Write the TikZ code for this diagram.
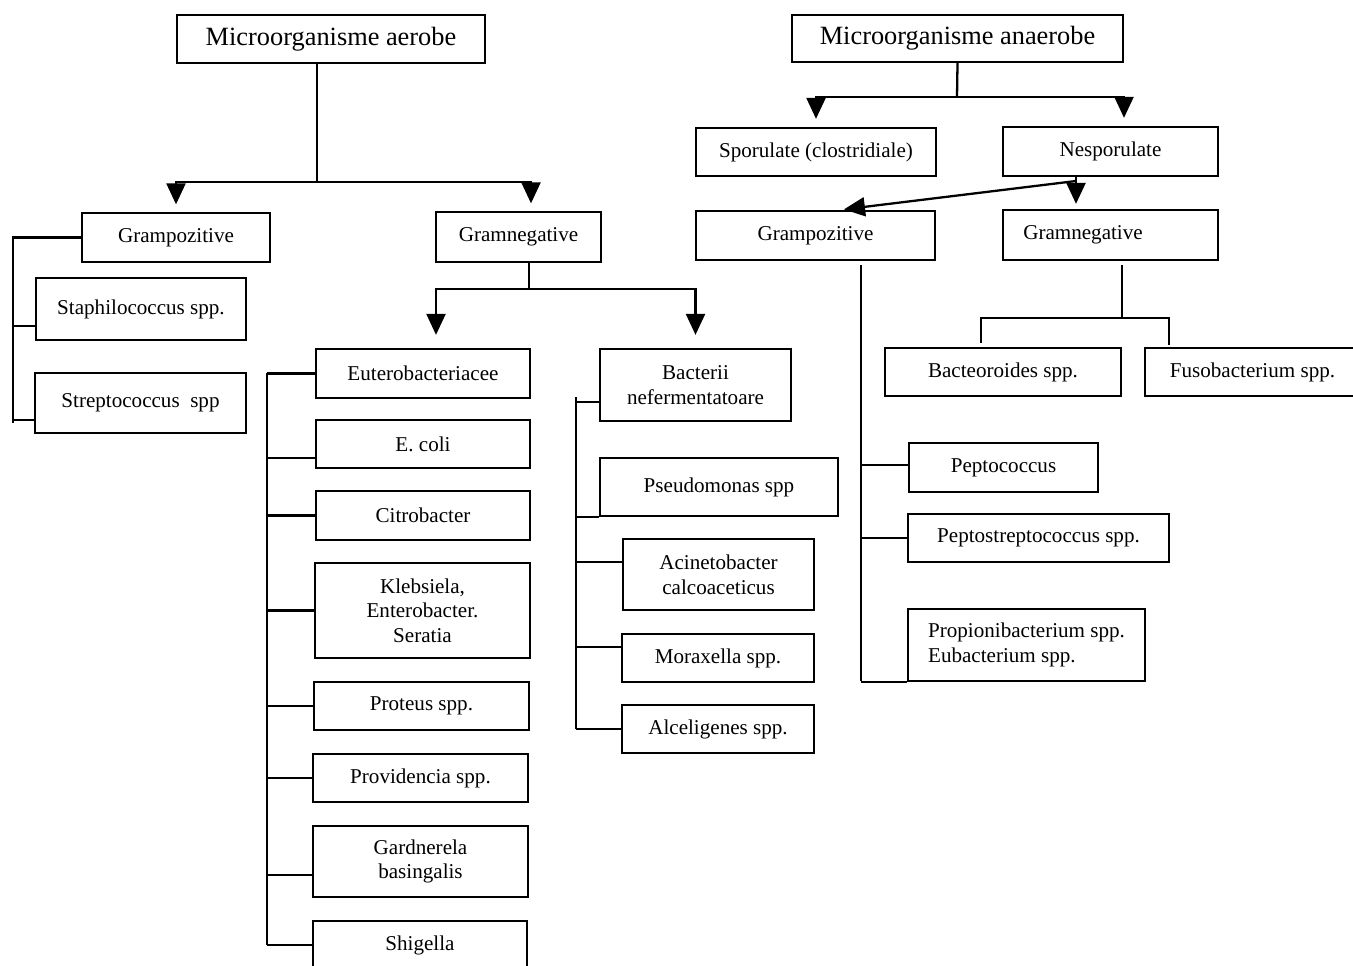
\documentclass[tikz,border=0pt]{standalone}
\usepackage{fontspec}
\setmainfont{Liberation Serif}
\usetikzlibrary{arrows.meta}

\begin{document}
\begin{tikzpicture}[
    x=0.2mm, y=-0.2mm,
    box/.style={draw=black, line width=1.3pt, fill=white, align=center, inner sep=2pt, font=\fontsize{12}{14}\selectfont},
    big/.style={font=\fontsize{15}{18}\selectfont},
    sz/.style 2 args={minimum width=#1*0.2mm, minimum height=#2*0.2mm},
    link/.style={line width=1.3pt},
    arr/.style={line width=1.3pt, -{Triangle[width=3.8mm,length=4.2mm]}}
]
    \path[use as bounding box, clip] (0,0) rectangle (1353,965);
    \fill[white] (0,0) rectangle (1353,965);

    \node[box, big, sz={308}{48}] at (331,39) (aer) {Microorganisme aerobe};
    \node[box, big, sz={331}{47}] at (957.5,38.5) (anaer) {Microorganisme anaerobe};

    \node[box, sz={188}{49}] at (176,237.5) (gpA) {Grampozitive};
    \node[box, sz={165}{50}] at (518.5,237) (gnA) {Gramnegative};
    \node[box, sz={210}{62}] at (141,309) (staph) {Staphilococcus spp.};
    \node[box, sz={211}{60}] at (140.5,403) (strep) {Streptococcus\ \ spp};

    \node[box, sz={214}{49}] at (423,373.5) (eutero) {Euterobacteriacee};
    \node[box, sz={214}{48}] at (423,444) (ecoli) {E. coli};
    \node[box, sz={214}{49}] at (423,515.5) (citro) {Citrobacter};
    \node[box, sz={215}{95}] at (422.5,610.5) (kleb) {Klebsiela,\\Enterobacter.\\Seratia};
    \node[box, sz={215}{48}] at (421.5,706) (proteus) {Proteus spp.};
    \node[box, sz={215}{48}] at (420.5,778) (provid) {Providencia spp.};
    \node[box, sz={215}{71}] at (420.5,861.5) (gardn) {Gardnerela\\basingalis};
    \node[box, sz={214}{48}] at (420,945) (shig) {Shigella};

    \node[box, sz={191}{72}] at (695.5,385) (bacterii) {Bacterii\\nefermentatoare};
    \node[box, sz={238}{58}] at (719,487) (pseudo) {Pseudomonas spp};
    \node[box, sz={191}{71}] at (718.5,574.5) (acin) {Acinetobacter\\calcoaceticus};
    \node[box, sz={192}{48}] at (718,658) (morax) {Moraxella spp.};
    \node[box, sz={192}{48}] at (718,729) (alcel) {Alceligenes spp.};

    \node[box, sz={240}{48}] at (816,152) (spor) {Sporulate (clostridiale)};
    \node[box, sz={215}{49}] at (1110.5,151.5) (nespor) {Nesporulate};
    \node[box, sz={239}{49}] at (815.5,235.5) (gpN) {Grampozitive};
    \node[box, sz={215}{50}] at (1110.5,235) (gnN) {Gramnegative\hspace*{11mm}};

    \node[box, sz={236}{48}] at (1003,372) (bacteo) {Bacteoroides spp.};
    \node[box, sz={215}{48}] at (1252.5,372) (fuso) {Fusobacterium spp.};
    \node[box, sz={189}{49}] at (1003.5,467.5) (pepto) {Peptococcus};
    \node[box, sz={261}{48}] at (1038.5,538) (peptostr) {Peptostreptococcus spp.};
    \node[box, sz={237}{72}, align=left] at (1026.5,645) (propion) {Propionibacterium spp.\\Eubacterium spp.};

    \coordinate (aerSplit) at (317,182);
    \draw[link] (aer.south -| aerSplit) -- (aerSplit);
    \draw[arr, shorten >=1.5mm] (aerSplit) -| (gpA.north);
    \draw[arr, shorten >=1.5mm] (aerSplit) -| ([xshift=2.5mm]gnA.north);

    \coordinate (gpArail) at (13,423);
    \coordinate (staphIn) at ([yshift=-3.4mm]staph.west);
    \coordinate (strepIn) at ([yshift=-3.4mm]strep.west);
    \draw[link] (gpA.west) -| (gpArail);
    \foreach \n in {staphIn, strepIn}
        \draw[link] (gpArail |- \n) -- (\n);

    \coordinate (gnASplit) at (529,289);
    \draw[link] (gnA.south -| gnASplit) -- (gnASplit);
    \draw[arr, shorten >=2.6mm] (gnASplit) -| ([xshift=2.6mm]eutero.north);
    \draw[arr, shorten >=2.6mm] (gnASplit) -| (bacterii.north);

    \coordinate (entTop) at (267,373);
    \coordinate (entBot) at (267,945);
    \coordinate (ecoliIn) at ([yshift=-2.8mm]ecoli.west);
    \coordinate (gardnIn) at ([yshift=-2.7mm]gardn.west);
    \draw[link] (entTop) -- (entBot);
    \foreach \n in {eutero.west, ecoliIn, citro.west, kleb.west, proteus.west, provid.west, gardnIn, shig.west}
        \draw[link] (entTop |- \n) -- (\n);

    \coordinate (nefTop) at (576,397);
    \coordinate (nefBot) at (576,729);
    \coordinate (bactIn) at ([yshift=-3.4mm]bacterii.west);
    \coordinate (acinIn) at ([yshift=2.5mm]acin.west);
    \coordinate (moraxIn) at ([yshift=2.2mm]morax.west);
    \draw[link] (nefTop) -- (nefBot);
    \foreach \n in {bactIn, pseudo.south west, acinIn, moraxIn, alcel.west}
        \draw[link] (nefTop |- \n) -- (\n);

    \coordinate (anSplit) at (957,97);
    \draw[link] (anaer.south) -- (anSplit);
    \draw[arr, shorten >=1.6mm] (anSplit) -| (spor.north);
    \draw[arr, shorten >=1.6mm] (anSplit) -| ([xshift=2.7mm]nespor.north);

    \coordinate (nesSplit) at (1076,181);
    \draw[link] (nespor.south -| nesSplit) -- (nesSplit);
    \draw[arr, shorten >=1mm] (nesSplit) -- (nesSplit |- gnN.north);
    \draw[arr, shorten >=0.8mm] (nesSplit) -- ([xshift=4.9mm]gpN.north);

    \coordinate (gnNTop) at (1122,265);
    \coordinate (gnNSplit) at (1122,318);
    \coordinate (bacteoDrop) at (981,343);
    \coordinate (fusoDrop) at (1169,345);
    \draw[link] (gnNTop) -- (gnNSplit);
    \draw[link] (bacteoDrop) |- (fusoDrop |- gnNSplit) -- (fusoDrop);

    \coordinate (gpNTop) at (861,265);
    \coordinate (gpNBot) at (861,681);
    \coordinate (peptoIn) at ([yshift=0.5mm]pepto.west);
    \draw[link] (gpNTop) -- (gpNBot);
    \foreach \n in {peptoIn, peptostr.west, propion.south west}
        \draw[link] (gpNTop |- \n) -- (\n);
\end{tikzpicture}
\end{document}
